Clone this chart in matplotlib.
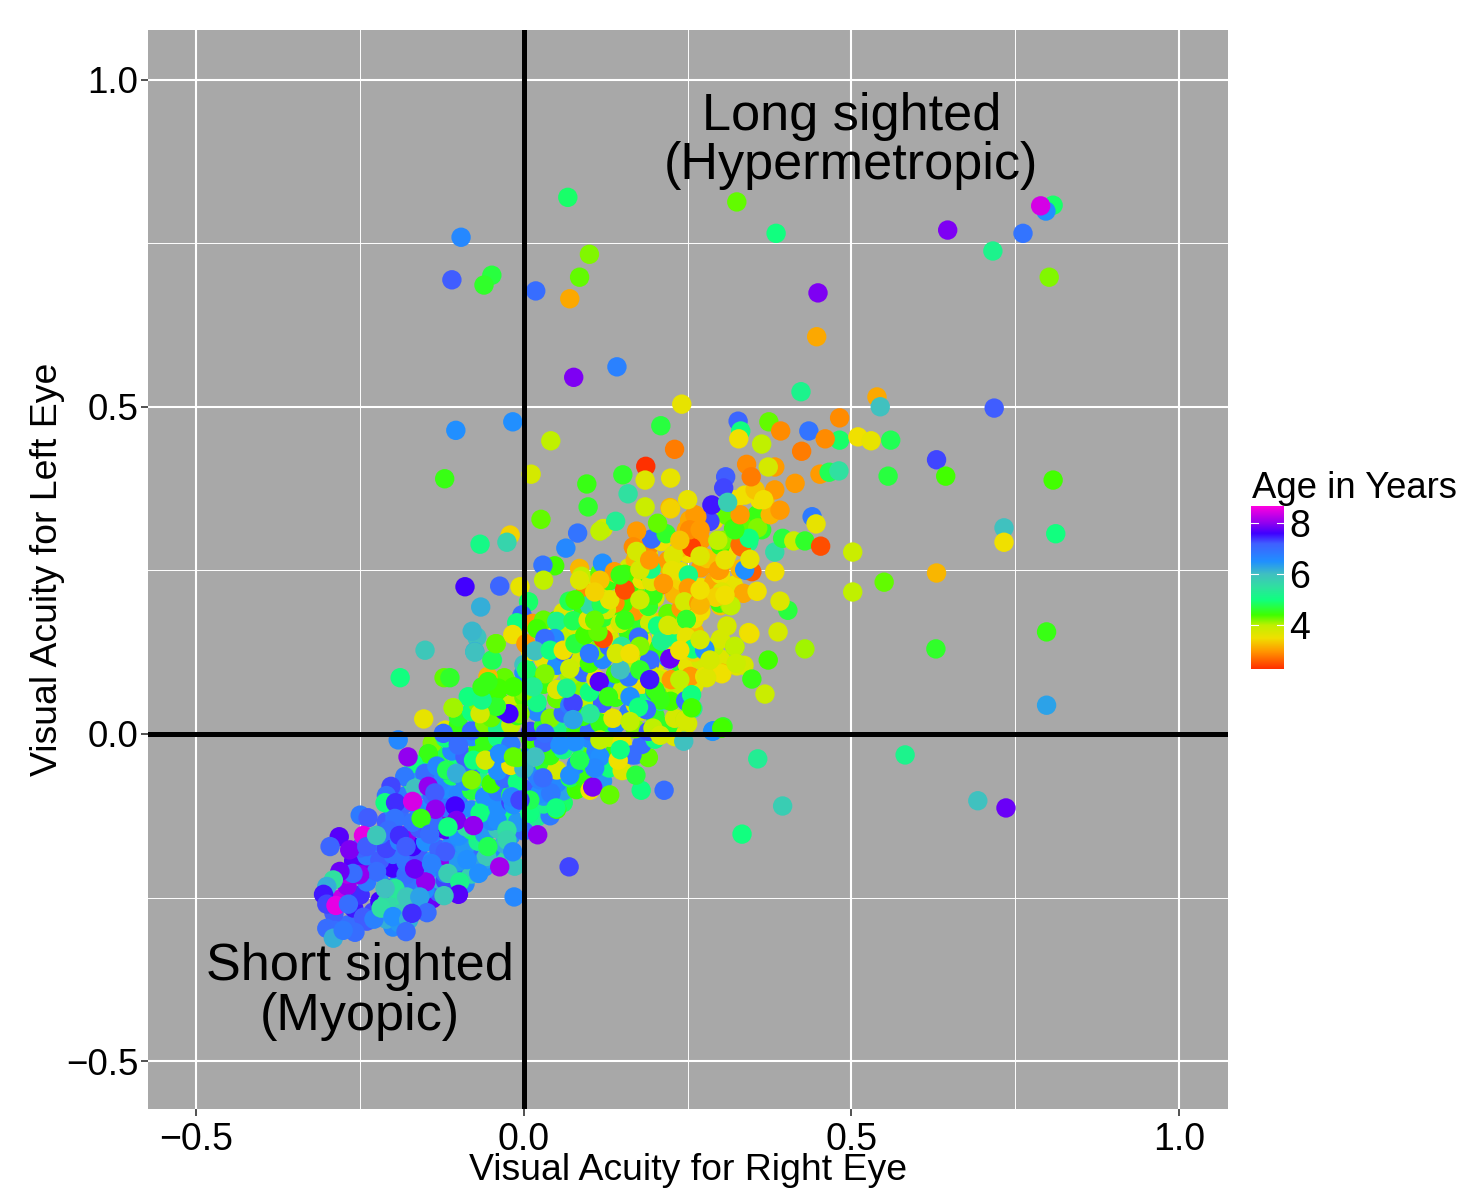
import matplotlib
matplotlib.use('Agg')
import matplotlib.pyplot as plt
import numpy as np
from matplotlib.colors import LinearSegmentedColormap, Normalize

# points, by region of the plot
lower_x = [-.146, -.169, -.151, -.133, -.182, -.118, -.1, -.123, -.077, -.103,
           -.08, -.059, -.037, -.016, .017, -.166, -.203, -.146, -.136, -.21,
           -.212, -.196, -.17, -.135, -.105, -.157, -.25, -.238, -.197, -.207,
           -.245, -.282, -.296, -.266, -.24, -.225, -.19, -.18, -.144, -.067,
           -.088, -.103, -.116, -.077, -.041, -.026, -.016, .009, -.019, .024,
           .041, .05, -.014, -.057, -.026, -.017, -.055, -.069, -.087, -.12,
           -.116, -.098, -.1, -.122, -.151, -.15, -.167, -.141, -.197, -.179,
           -.159, -.212, -.225, -.251, -.261, -.281, -.291, -.301, -.306, -.301,
           -.287, -.268, -.245, -.229, -.218, -.2, -.176, -.148, -.171, -.18,
           -.258, -.289, -.301, -.291, -.276]
lower_y = [-.03, -.045, -.06, -.049, -.065, -.055, -.017, .001, -.04, -.06,
           -.07, -.04, -.03, -.035, -.035, -.083, -.08, -.08, -.09, -.094,
           -.105, -.105, -.103, -.115, -.11, -.129, -.124, -.128, -.129, -.147,
           -.155, -.157, -.172, -.177, -.172, -.155, -.155, -.172, -.153, -.121,
           -.142, -.132, -.142, -.14, -.132, -.147, -.108, -.121, -.096, -.091,
           -.092, -.115, -.202, -.187, -.162, -.18, -.172, -.213, -.192, -.18,
           -.213, -.226, -.245, -.247, -.238, -.226, -.206, -.198, -.236, -.249,
           -.249, -.236, -.21, -.215, -.213, -.21, -.223, -.233, -.245, -.26,
           -.262, -.26, -.28, -.283, -.266, -.279, -.284, -.273, -.274, -.302,
           -.303, -.3, -.297, -.312, -.3]
lower_age = [4.5, 5.0, 7.0, 6.6, 6.8, 4.8, 7.0, 7.0, 5.0, 6.2,
             4.2, 3.8, 6.5, 4.3, 6.0, 6.0, 7.3, 8.0, 7.2, 6.9,
             5.0, 7.4, 8.4, 8.0, 7.6, 4.5, 6.8, 7.2, 6.9, 7.0,
             8.5, 7.7, 7.1, 7.9, 7.2, 5.9, 7.4, 7.2, 7.0, 5.0,
             5.5, 7.9, 5.0, 8.0, 6.5, 5.5, 6.5, 5.0, 6.6, 6.5,
             6.6, 4.4, 5.9, 5.9, 5.7, 6.6, 4.8, 6.5, 6.5, 7.2,
             5.8, 5.2, 7.7, 5.9, 6.5, 8.0, 7.8, 6.7, 5.4, 5.9,
             6.3, 6.0, 7.0, 8.0, 7.0, 7.8, 5.5, 6.2, 7.5, 7.3,
             8.5, 7.0, 7.2, 6.7, 5.5, 6.5, 6.2, 7.0, 7.4, 7.0,
             7.0, 7.0, 7.0, 6.2, 6.8]

middle_x = [-.072, -.075, -.042, -.048, -.055, -.108, .047, .029, .03, -.006,
            .007, -.003, .013, -.011, -.017, .003, .038, .03, .02, .05,
            .075, .069, .047, .032, .017, .04, .06, .078, .093, .1,
            .121, .113, .098, .121, .108, .093, .1, .07, .085, .088,
            .116, .12, .138, .154, .154, .152, .139, .126, .118, .147,
            .175, .177, .149, .141, .162, .116, .101, .075, .115, .065,
            .129, .162, .187, .175, .136, .162, .197, .075, .032, -.006,
            -.023, -.042, -.067, -.085, -.064, -.064, -.039, -.016, .004, .032,
            .014, .111, .116, .101, .105, .179, .171, .165, .144, .244,
            .289, .302, .131, .108, .041, .049, .024, .07, .009, -.006,
            .029, .078, .116, .147, .208, .085, .055, .131, .154, .177,
            .192, .147, .116, .108, .085, .154, .177, .078, .108]
middle_y = [.148, .126, .138, .113, .088, .04, .257, .258, .235, .225,
            .202, .182, .169, .17, .152, .138, .16, .174, .161, .172,
            .173, .203, .146, .146, .127, .128, .128, .138, .151, .123,
            .146, .156, .174, .178, .215, .215, .197, .1, .253, .241,
            .246, .261, .248, .244, .221, .2, .2, .19, .198, .169,
            .148, .134, .134, .123, .123, .017, .031, .047, .08, .07,
            .057, .057, .037, .041, .024, .019, .009, .022, .001, .031,
            .031, .042, .031, .057, .052, .072, .07, .072, .098, .092,
            .072, -.028, -.035, -.086, -.081, -.086, -.063, -.032, -.04, -.011,
            .005, .009, -.093, -.052, -.09, -.113, -.07, -.063, -.101, -.101,
            -.067, -.012, -.009, -.024, -.002, -.04, -.017, .205, .22, .251,
            .266, .243, .235, .174, .235, .174, .205, .205, .217]
middle_age = [6.0, 6.2, 4.2, 5.2, 3.2, 4.0, 4.4, 6.9, 4.0, 3.6,
              4.9, 7.0, 3.0, 5.0, 3.5, 3.0, 3.6, 4.3, 4.4, 5.2,
              4.8, 4.8, 6.6, 7.0, 6.0, 5.0, 3.5, 4.7, 4.4, 6.8,
              2.5, 4.3, 3.6, 4.6, 4.8, 2.9, 5.6, 3.9, 3.2, 4.0,
              4.3, 6.5, 3.0, 4.4, 2.4, 4.4, 2.9, 3.8, 4.8, 3.8,
              7.0, 4.2, 5.4, 3.8, 3.5, 4.5, 5.4, 7.3, 7.7, 5.2,
              4.5, 6.5, 7.0, 5.0, 3.6, 4.0, 4.0, 6.3, 7.0, 4.2,
              7.6, 4.6, 3.8, 5.0, 5.1, 4.5, 4.4, 4.4, 4.9, 4.2,
              5.3, 6.6, 6.5, 3.5, 7.9, 5.0, 4.7, 7.0, 3.5, 6.0,
              6.5, 4.4, 4.3, 6.6, 6.8, 5.0, 6.7, 6.5, 4.8, 7.3,
              7.0, 6.5, 4.0, 5.0, 3.8, 4.8, 6.5, 3.6, 2.5, 3.8,
              3.0, 4.5, 3.3, 4.3, 3.7, 4.5, 3.9, 4.4, 3.4]

upper_x = [.192, .204, .21, .19, .197, .195, .18, .194, .195, .172,
           .167, .172, .217, .204, .248, .243, .256, .228, .273, .226,
           .251, .251, .213, .245, .267, .248, .22, .248, .258, .276,
           .223, .192, .192, .205, .225, .254, .276, .302, .287, .322,
           .325, .343, .209, .224, .247, .258, .246, .304, .288, .297,
           .335, .302, .299, .314, .32, .305, .343, .332, .284, .223,
           .264, .34, .121, .064, .276, .223, .302, .322, .345, .336,
           .324, .279, .256, .246, .256, .2, .238, .269, .238, .284,
           .192, .162, .177, .208, .192, .147, .33, .348, .356, .316,
           .293, .269, .269, .299, .337, .383, .395, .412, .429, .363,
           .356, .333, .357, .344, .296, .307, .269, .36, .322, .383,
           .345, .307, .253, .261, .253, .238, .269, .337, .353, .368,
           .376, .391, .383, .322, .33]
upper_y = [.17, .165, .142, .195, .212, .233, .253, .252, .298, .31,
           .286, .279, .306, .322, .312, .295, .285, .273, .271, .25,
           .243, .223, .23, .202, .2, .175, .166, .148, .13, .13,
           .115, .108, .093, .083, .083, .088, .088, .093, .11, .133,
           .104, .155, .05, .05, .051, .039, .022, .011, .004, .25,
           .215, .217, .2, .197, .314, .296, .293, .286, .325, .346,
           .332, .25, .314, .284, .128, .115, .092, .134, .153, .105,
           .108, .086, .06, .021, .04, .067, .083, .144, .128, .113,
           .113, .128, .098, .052, .083, .098, .289, .248, .218, .196,
           .209, .197, .22, .251, .251, .278, .299, .295, .295, .312,
           .335, .319, .315, .299, .296, .266, .272, .358, .312, .248,
           .267, .212, .327, .335, .312, .296, .312, .365, .373, .358,
           .335, .342, .373, .358, .335]
upper_age = [3.9, 5.0, 5.2, 4.6, 4.5, 3.7, 5.0, 5.1, 7.0, 3.0,
             2.9, 3.8, 4.6, 4.3, 3.1, 3.6, 2.4, 3.7, 3.3, 3.6,
             5.1, 3.0, 3.0, 3.8, 3.0, 4.6, 3.8, 3.6, 5.0, 6.5,
             7.9, 7.0, 3.8, 3.9, 3.0, 3.0, 3.6, 3.2, 3.7, 4.1,
             3.7, 3.6, 5.5, 4.4, 7.0, 5.3, 4.0, 4.6, 6.4, 3.0,
             3.1, 3.7, 4.5, 4.2, 4.4, 4.2, 5.3, 2.7, 7.3, 3.2,
             3.0, 6.5, 3.8, 6.6, 6.5, 7.8, 3.5, 4.0, 3.5, 3.8,
             3.9, 3.7, 5.0, 3.8, 4.4, 4.5, 4.0, 3.8, 3.5, 3.8,
             7.0, 3.5, 4.6, 4.5, 7.5, 6.0, 2.7, 2.6, 3.5, 4.0,
             3.4, 3.2, 3.5, 3.0, 6.5, 5.6, 4.7, 3.9, 4.6, 4.6,
             4.5, 4.3, 4.2, 5.0, 4.0, 3.6, 3.7, 3.5, 4.5, 3.5,
             3.6, 3.5, 3.1, 3.0, 2.9, 3.3, 3.0, 3.5, 3.3, 3.3,
             3.2, 3.0, 3.0, 3.5, 3.0]

sparse_x = [.067, .325, -.096, .385, .10, .085, -.049, -.061, -.11, .018,
            .07, .449, .447, .808, .797, .789, .762, .647, .716, .802,
            .142, .076, .718, .539, .544, .241, -.104, -.017, .041, -.121,
            .327, .374, .423, .209, .331, .392, .482, .435, .482, .46,
            .51, .53, .56, .23, .328, .363, .424, .186, .63, .644,
            .808, .556, .452, .466, .481, .34, .347, .383, .373, .308,
            .224, .185, .011, .096, .159, .151, .414, .305, .098, .185,
            .224, .25, .287, .366, .311, .733, .733, .812, .44, .446,
            .026, .14, .082, .116, -.021, -.026, -.067, .453, .502, .55,
            .63, .502, .798, .629, .798, .429, .403, .391, .388, .373,
            .368, .348, .582, .357, .693, .736, .395, .333, .214, .069,
            .021, -.037, -.015, -.177, -.192, -.153, -.189, -.151, -.122, -.113,
            -.108, -.079, -.066, -.075, -.09, -.037, -.049, -.043, -.055]
sparse_y = [.82, .813, .759, .765, .733, .698, .701, .686, .694, .677,
            .665, .674, .607, .808, .799, .807, .765, .77, .738, .698,
            .561, .545, .498, .515, .5, .504, .464, .477, .448, .39,
            .478, .477, .523, .471, .463, .463, .483, .463, .449, .451,
            .454, .448, .449, .435, .451, .443, .432, .409, .419, .394,
            .388, .394, .397, .4, .402, .412, .393, .408, .408, .393,
            .391, .388, .397, .382, .367, .396, .383, .376, .347, .347,
            .344, .358, .35, .358, .354, .315, .293, .306, .332, .321,
            .328, .325, .307, .31, .304, .293, .29, .287, .278, .232,
            .246, .217, .156, .13, .044, .13, .189, .203, .156, .113,
            .061, .084, -.032, -.038, -.102, -.113, -.11, -.153, -.086, -.203,
            -.154, -.203, -.249, -.035, -.009, .023, .086, .128, .086, .086,
            .04, .157, .194, .125, .225, .226, .113, .138, .08]
sparse_age = [4.9, 4.3, 6.6, 5.0, 4.2, 4.3, 4.7, 4.6, 7.2, 7.0,
              3.1, 7.9, 3.1, 4.9, 6.5, 8.4, 6.9, 7.9, 5.2, 4.2,
              6.7, 7.9, 7.2, 3.1, 6.0, 3.6, 6.5, 6.5, 4.0, 4.5,
              7.1, 4.3, 5.2, 4.7, 5.0, 2.9, 2.9, 6.9, 4.9, 2.9,
              3.5, 3.6, 4.8, 2.8, 3.5, 4.0, 2.8, 2.3, 7.3, 4.4,
              4.4, 4.7, 3.0, 4.8, 5.5, 2.9, 2.8, 3.0, 3.8, 7.2,
              3.6, 3.7, 3.8, 4.5, 5.5, 4.6, 3.0, 7.3, 4.6, 3.9,
              3.4, 3.6, 7.5, 3.5, 5.8, 6.0, 3.5, 5.0, 6.8, 3.6,
              4.3, 5.3, 6.9, 4.0, 3.4, 5.7, 5.1, 2.5, 3.9, 4.3,
              3.2, 4.0, 4.5, 4.6, 6.3, 4.1, 4.7, 3.7, 3.8, 4.4,
              3.9, 4.5, 5.2, 5.3, 6.0, 7.8, 5.8, 5.0, 7.0, 7.3,
              8.0, 8.1, 6.6, 8.0, 6.6, 3.6, 5.0, 5.9, 4.3, 4.6,
              4.1, 6.1, 6.2, 6.0, 7.6, 7.1, 4.8, 4.3, 4.5]

# the crowded band, estimated strip by strip from bottom to top
dense_x = [-.27, -.24, -.2, -.21, -.19,
           -.29, -.26, -.23, -.19, -.16,
           -.28, -.25, -.22, -.2, -.17, -.14, -.13, -.21,
           -.27, -.24, -.21, -.19, -.17, -.15, -.13, -.11, -.09, -.12,
           -.27, -.24, -.22, -.2, -.18, -.16, -.14, -.12, -.1, -.08, -.06,
           -.26, -.24, -.22, -.2, -.18, -.16, -.14, -.12, -.1, -.08, -.06, -.04,
           -.25, -.23, -.21, -.19, -.17, -.15, -.13, -.11, -.09, -.07, -.05, -.03,
           -.22, -.2, -.18, -.16, -.14, -.12, -.1, -.08, -.06, -.04, -.02, .0,
           -.21, -.19, -.17, -.15, -.13, -.11, -.09, -.07, -.05, -.03, -.01, .02, .04,
           -.2, -.18, -.16, -.14, -.12, -.1, -.08, -.06, -.04, -.02, .01, .03, .06,
           -.18, -.16, -.14, -.12, -.1, -.08, -.06, -.04, -.02, .0, .03, .06, .08,
           -.17, -.15, -.13, -.11, -.09, -.07, -.05, -.03, -.01, .02, .05, .07, .09, .12,
           -.16, -.14, -.12, -.1, -.08, -.06, -.04, -.02, .0, .03, .05, .08, .1, .13, .15,
           -.13, -.11, -.09, -.07, -.05, -.03, -.01, .01, .04, .06, .09, .11, .14, .17, .19,
           -.14, -.12, -.1, -.08, -.06, -.04, -.02, .01, .03, .06, .08, .1, .13, .15, .18, .2, .23,
           -.12, -.1, -.08, -.06, -.04, -.02, .01, .03, .05, .08, .1, .12, .14, .17, .19, .22, .25,
           -.1, -.08, -.05, -.03, -.01, .02, .04, .06, .09, .11, .13, .16, .18, .2, .23,
           -.07, -.04, -.02, .0, .02, .05, .07, .1, .12, .14, .17, .19, .22, .25,
           -.05, -.02, .0, .03, .05, .08, .1, .13, .15, .18, .2, .23, .26,
           -.03, .0, .02, .04, .07, .09, .11, .14, .16, .19, .21, .24, .28,
           .0, .03, .05, .08, .1, .12, .15, .17, .2, .22, .25, .27, .3,
           .01, .04, .06, .08, .11, .13, .15, .18, .2, .23, .26, .29,
           .04, .06, .09, .11, .13, .16, .18, .21, .23, .26, .3,
           .03, .05, .08, .1, .13, .16, .18, .21, .23, .26, .31,
           .06, .09, .11, .14, .17, .19, .22, .24, .27, .3,
           .09, .12, .14, .17, .2, .23, .25, .28, .31,
           .11, .13, .16, .18, .21, .24, .27, .29, .32,
           .14, .16, .19, .22, .24, .27, .3, .33,
           .17, .19, .22, .25, .28, .31,
           .19, .21, .24, .27, .3, .33,
           .29, .31, .35, .37]
dense_y = [-.292, -.286, -.295, -.283, -.289,
           -.274, -.266, -.272, -.265, -.262,
           -.252, -.246, -.255, -.248, -.243, -.252, -.242, -.258,
           -.232, -.226, -.235, -.224, -.231, -.228, -.222, -.236, -.229, -.224,
           -.214, -.206, -.212, -.205, -.215, -.208, -.204, -.213, -.207, -.214, -.203,
           -.194, -.186, -.193, -.184, -.196, -.188, -.194, -.186, -.195, -.185, -.192, -.187,
           -.174, -.166, -.175, -.164, -.172, -.165, -.176, -.168, -.173, -.164, -.175, -.168,
           -.154, -.146, -.155, -.144, -.152, -.146, -.156, -.147, -.153, -.145, -.155, -.148,
           -.134, -.126, -.135, -.124, -.132, -.126, -.136, -.128, -.133, -.124, -.135, -.127, -.125,
           -.114, -.106, -.115, -.104, -.112, -.106, -.116, -.108, -.113, -.104, -.115, -.107, -.105,
           -.094, -.086, -.095, -.084, -.092, -.086, -.096, -.088, -.093, -.084, -.095, -.087, -.085,
           -.074, -.066, -.075, -.064, -.072, -.066, -.076, -.068, -.073, -.064, -.075, -.067, -.065, -.072,
           -.054, -.046, -.055, -.044, -.052, -.046, -.056, -.048, -.053, -.044, -.055, -.047, -.045, -.052, -.056,
           -.034, -.026, -.035, -.024, -.032, -.026, -.036, -.028, -.033, -.024, -.035, -.027, -.025, -.032, -.036,
           -.014, -.006, -.015, -.004, -.012, -.006, -.016, -.008, -.013, -.004, -.015, -.007, -.005, -.012, -.016, -.008, -.004,
           .006, .014, .005, .016, .008, .014, .004, .012, .007, .016, .005, .013, .015, .008, .004, .012, .016,
           .026, .034, .025, .036, .028, .034, .024, .032, .027, .036, .025, .033, .035, .028, .024,
           .046, .054, .045, .056, .048, .054, .044, .052, .047, .056, .045, .053, .055, .048,
           .066, .074, .065, .076, .068, .074, .064, .072, .067, .076, .065, .073, .075,
           .086, .094, .085, .096, .088, .094, .084, .092, .087, .096, .085, .093, .095,
           .106, .114, .105, .116, .108, .114, .104, .112, .107, .116, .105, .113, .115,
           .126, .134, .125, .136, .128, .134, .124, .132, .127, .136, .125, .133,
           .146, .154, .145, .156, .148, .154, .144, .152, .147, .156, .145,
           .166, .174, .165, .176, .168, .174, .164, .172, .167, .176, .165,
           .186, .194, .185, .196, .188, .194, .184, .192, .187, .196,
           .206, .214, .205, .216, .208, .214, .204, .212, .207,
           .226, .234, .225, .236, .228, .234, .224, .232, .227,
           .246, .254, .245, .256, .248, .254, .244, .252,
           .266, .274, .265, .276, .268, .274,
           .286, .294, .285, .296, .288, .294,
           .326, .334, .325, .336]
dense_age = [7, 7.2, 6.6, 6.2, 6.4,
             7.2, 7.5, 7.3, 5.8, 6.3,
             8.3, 7.4, 7.6, 5.5, 6.6, 7.8, 7.2, 5.6,
             8, 6.8, 7.2, 6.4, 6.9, 6.3, 6.2, 5.4, 6.6, 7.3,
             8.2, 7.9, 6.7, 7.6, 7, 8, 6.6, 6.8, 7.1, 5.8, 6.5,
             7.7, 6.8, 7.2, 6.9, 6.9, 7.2, 6.5, 8, 6.4, 7, 6.3, 5.6,
             7.1, 6.9, 7.3, 6.7, 7.6, 6.5, 7.1, 6.6, 6.4, 5.2, 6.6, 6.2,
             6.8, 6.5, 8, 7.2, 6.7, 7.7, 6.5, 4.9, 6.4, 5.9, 6.5, 7,
             7.2, 7, 6.9, 6.5, 7, 8, 4.8, 6.5, 6.6, 5, 6.4, 5.3, 6.8,
             6.6, 7.1, 6.7, 6.5, 6.9, 7, 6.6, 5.1, 6.5, 7.3, 6.4, 5.2, 4.9,
             6.8, 6.4, 7, 6.5, 6.6, 4.7, 6.5, 6.8, 4.8, 7.2, 6.4, 6.3, 4.4,
             5, 6.5, 6.6, 4.9, 6.6, 5.3, 4.4, 7, 5, 6.6, 6.6, 4.8, 4.5, 6.4,
             6.4, 5, 6.6, 5, 7, 5, 6.5, 3.5, 6.1, 4.6, 3.8, 6.6, 4.6, 5, 3.7,
             4.8, 6.6, 7.2, 4.5, 6.6, 5.2, 4.3, 6.6, 4.5, 5.1, 4.3, 6.5, 4.4, 6.9, 4.3,
             4.2, 5, 7.2, 6.6, 4.5, 5.1, 6.8, 4.4, 7.1, 4.6, 5.3, 6.6, 4, 3.6, 7, 5, 3.7,
             3.6, 4.5, 7, 4.2, 5.2, 4, 7.3, 4.6, 5.2, 4.4, 7, 4.8, 6.6, 4.2, 7.2, 4.6, 3.8,
             4.6, 5, 4.3, 7.5, 4.5, 6.6, 4.2, 7, 4.5, 5, 3.6, 6.8, 3.9, 4.6, 3.8,
             4.2, 4.4, 3.9, 4.3, 5.1, 4.3, 6.8, 4, 7.2, 4.5, 3.7, 5, 4.3, 4.6,
             4.4, 4.3, 4.2, 4.5, 3.7, 4.2, 5, 6.5, 4, 3.5, 7, 4, 3.7,
             4.3, 6.5, 4.5, 3.8, 4.1, 7, 3.6, 4.4, 6.8, 3.8, 3.6, 4.6, 3.5,
             6, 3.6, 6.5, 3.8, 4.4, 6.6, 3.4, 4, 3.6, 6.5, 3.6, 3.8, 3.7,
             3.5, 4.4, 7, 3.8, 4.2, 7, 3.6, 3.3, 4.5, 3.6, 3.4, 4,
             3.6, 4, 3.4, 6.5, 3.8, 4.5, 3.5, 3.5, 5, 3.2, 3.8,
             3.9, 4.4, 3.7, 4.2, 3.5, 4.3, 4.6, 3.3, 3.7, 3.6, 3.8,
             3.7, 4.5, 3.2, 4.4, 3, 3.7, 4.3, 3, 3.5, 3.3,
             4.5, 3.7, 3.9, 4.2, 3.7, 3.2, 3, 3.4, 2.9,
             3.6, 4.5, 4.4, 3.5, 2.8, 3.4, 3.5, 3.1, 3.6,
             3.4, 3.8, 4.4, 3.2, 3.6, 3, 3.5, 3.2,
             3.2, 3.7, 3, 3.5, 3.3, 3.5,
             2.9, 3.5, 3.3, 3, 4.4, 3.4,
             3.5, 4.3, 3.1, 3.4]

x_ticks = [-0.5, 0.0, 0.5, 1.0]
y_ticks = [-0.5, 0.0, 0.5, 1.0]
age_ticks = [4, 6, 8]
age_min, age_max = 2.3, 8.66

age_stops = [2.3, 3.0, 3.5, 4.0, 4.4, 5.0, 5.5, 6.0, 6.5, 7.2, 7.6, 8.0, 8.66]
age_colors = ['#ff3000', '#ff9a00', '#f0e000', '#c0f000', '#40ff00', '#10ff80', '#30e0a0',
              '#40c0c0', '#2090ff', '#4060ff', '#4000ff', '#9000f0', '#ff00e0']

plt.rcParams['font.family'] = ['Liberation Sans', 'DejaVu Sans']

norm = Normalize(age_min, age_max)
cmap = LinearSegmentedColormap.from_list('age', [(norm(a), c) for a, c in zip(age_stops, age_colors)], N=256)

W, H = 1457, 1188
fig = plt.figure(figsize=(W / 100, H / 100), dpi=100)
ax = fig.add_axes([148 / W, 1 - 1109 / H, (1228 - 148) / W, (1109 - 30) / H])
ax.set_facecolor('#a8a8a8')
ax.set_xlim(-0.574, 1.075)
ax.set_ylim(-0.573, 1.0757)

ax.set_axisbelow(True)
ax.set_xticks(x_ticks)
ax.set_yticks(y_ticks)
ax.set_xticks([-0.25, 0.25, 0.75], minor=True)
ax.set_yticks([-0.25, 0.25, 0.75], minor=True)
ax.grid(True, which='major', color='white', lw=1.5)
ax.grid(True, which='minor', color='white', lw=0.7)
ax.tick_params(which='minor', length=0)
ax.tick_params(which='major', length=5, width=1.2, color='#333333', labelsize=27, pad=4)
ax.tick_params(axis='y', which='major', labelsize=26.5, pad=2)
for s in ax.spines.values():
    s.set_visible(False)
ax.xaxis.set_major_formatter(lambda v, p: f'{v:.1f}'.replace('-', '\u2212'))
ax.yaxis.set_major_formatter(lambda v, p: f'{v:.1f}'.replace('-', '\u2212'))

for xs, ys, ages in [(dense_x, dense_y, dense_age), (lower_x, lower_y, lower_age),
                     (upper_x, upper_y, upper_age), (middle_x, middle_y, middle_age),
                     (sparse_x, sparse_y, sparse_age)]:
    ax.scatter(xs, ys, c=ages, cmap=cmap, norm=norm, s=195, linewidths=0, zorder=3)

ax.axhline(0, color='black', lw=3.6, zorder=4)
ax.axvline(0, color='black', lw=3.6, zorder=4)

ax.text(0.5, 0.944, 'Long sighted', fontsize=37.6, ha='center', va='center', zorder=5)
ax.text(0.5, 0.869, '(Hypermetropic)', fontsize=37.6, ha='center', va='center', zorder=5)
ax.text(-0.25, -0.356, 'Short sighted', fontsize=37.6, ha='center', va='center', zorder=5)
ax.text(-0.25, -0.431, '(Myopic)', fontsize=37.6, ha='center', va='center', zorder=5)

fig.text(688 / W, 1 - 1171 / H, 'Visual Acuity for Right Eye', fontsize=26.9, ha='center', va='center')
fig.text(48 / W, 1 - 569 / H, 'Visual Acuity for Left Eye', fontsize=26.9, ha='center', va='center', rotation=90)

# legend colour bar
cax = fig.add_axes([1251 / W, 1 - 669 / H, 33 / W, 163 / H])
cax.imshow(np.linspace(age_max, age_min, 256).reshape(-1, 1), cmap=cmap, norm=norm, aspect='auto',
           extent=[0, 1, age_min, age_max])
cax.set_xticks([])
cax.yaxis.tick_right()
cax.set_yticks(age_ticks)
cax.set_yticklabels([str(a) for a in age_ticks])
cax.tick_params(length=0, labelsize=27, pad=4)
for s in cax.spines.values():
    s.set_visible(False)
for a in age_ticks:
    cax.plot([0, 0.2], [a, a], color='white', lw=0.8)
    cax.plot([0.8, 1], [a, a], color='white', lw=0.8)
cax.set_xlim(0, 1)
cax.set_ylim(age_min, age_max)
fig.text(1252 / W, 1 - 488 / H, 'Age in Years', fontsize=26.3, ha='left', va='center')

fig.savefig('out.png', dpi=100)
